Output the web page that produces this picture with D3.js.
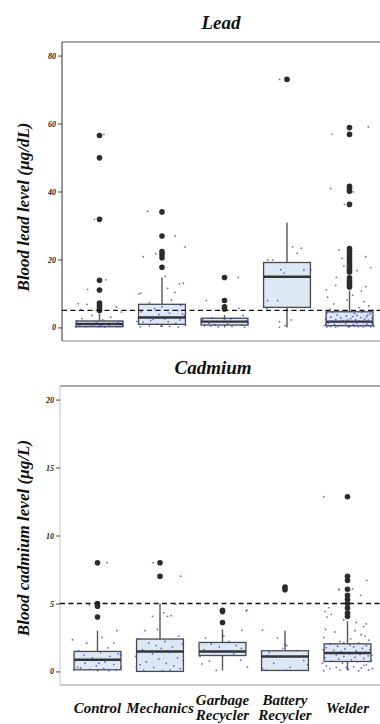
<!DOCTYPE html>
<html>
<head>
<meta charset="utf-8">
<script src="https://cdn.jsdelivr.net/npm/d3@7"></script>
<style>
  body { margin: 0; background: #fff; }
  svg text { font-family: "Liberation Serif", "DejaVu Serif", serif; font-style: italic; font-weight: bold; fill: #111; }
</style>
</head>
<body>
<svg id="chart" width="380" height="724"></svg>
<script>
// categories and axis ticks
const categories = ["Control", "Mechanics", "Garbage Recycler", "Battery Recycler", "Welder"];
const leadTicks = [0, 20, 40, 60, 80];
const cdTicks = [0, 5, 10, 15, 20];
const refLevel = 5;

// lead box statistics (µg/dL)
const leadLow    = [0, 0.2, 0, 0, 0];
const leadQ1     = [0.2, 0.9, 0.7, 5.9, 0.5];
const leadMedian = [1.0, 2.9, 1.7, 14.9, 1.7];
const leadQ3     = [1.9, 6.8, 2.7, 19.1, 4.6];
const leadHigh   = [4.0, 14.7, 3.6, 30.8, 10.8];
const leadOutliers = [
  [5.0, 5.8, 6.5, 7.2, 11.0, 13.9, 31.8, 49.9, 56.5],
  [17.7, 20.5, 21.5, 22.3, 26.9, 34.0],
  [5.4, 6.1, 7.9, 14.7],
  [73.0],
  [11.9, 12.5, 13.2, 13.9, 14.6, 16.3, 17.0, 17.7, 18.4, 19.2, 20.0, 20.8, 21.6, 22.4, 23.2, 36.2, 40.1, 40.9, 41.5, 56.8, 58.8]
];
// individual measurements: [value, horizontal jitter as share of category step]
const leadPoints = [
  [[56.8,0.07],[31.8,-0.08],[14,0.1],[11.2,-0.19],[7,-0.34],[6.8,-0.2],[6,0.27],[5.2,-0.3],[4.5,0.35],[3.5,-0.12],[3,0.18],[2.6,-0.28],[2.2,0.05],[1.9,-0.36],[1.6,0.3],[1.4,-0.05],[1.2,0.22],[1,-0.25],[0.9,0.1],[0.8,-0.15],[0.6,0.38],[0.5,-0.32],[0.4,0.15],[0.3,-0.02],[0.2,0.28],[0.2,-0.22],[0.1,0.08],[0.1,-0.38],[0.3,0.33],[0.5,0.02],[0.7,-0.1],[1.1,0.2]],
  [[34.2,-0.23],[26.9,0.21],[23.7,0.37],[21.7,-0.1],[20.8,-0.3],[15,0.05],[13,0.34],[12.8,0.28],[11.5,0.09],[10.3,0.21],[10.1,-0.34],[9.8,-0.37],[8,0.15],[7.2,-0.2],[6.5,0.3],[6.1,0],[5.5,-0.12],[5,0.25],[4.6,-0.33],[4.2,0.12],[3.8,-0.05],[3.5,0.36],[3.2,-0.25],[3,0.18],[2.8,-0.38],[2.5,0.05],[2.2,0.29],[2,-0.18],[1.7,0.1],[1.5,-0.3],[1.2,0.22],[1,-0.08],[0.8,0.35],[0.5,-0.2],[0.3,0.12],[0.2,-0.35],[0.1,0.26],[0.4,-0.02],[0.6,0.38],[1.8,-0.4],[4,0.33],[2.4,-0.14]],
  [[14.7,0.22],[7.9,-0.29],[5.6,0.23],[3.5,0.3],[2.8,-0.2],[2.5,0.1],[2.2,-0.35],[2,0.35],[1.8,-0.05],[1.5,0.18],[1.2,-0.25],[1,0.05],[0.8,-0.15],[0.6,0.28],[0.5,-0.32],[0.3,0.12],[0.2,-0.1],[0.1,0.32],[0.4,-0.22],[1.3,0.38],[2.4,0]],
  [[73,-0.12],[23.7,0.09],[23.3,0.23],[21.8,0.16],[19.8,-0.31],[19.8,-0.23],[17,-0.1],[16.9,0.27],[16.9,0.38],[16,-0.05],[7.9,-0.31],[7.9,-0.15],[5.6,-0.32],[2.2,0.07],[1.7,-0.12],[0.5,-0.03],[0.1,-0.12]],
  [[59,0.3],[56.9,-0.28],[40.9,-0.3],[39.9,0.06],[36.2,-0.08],[22.8,-0.17],[20.8,0.26],[20.3,-0.12],[18.1,-0.09],[17.6,0.34],[16.7,0.12],[14.7,-0.21],[12.4,-0.22],[12,0.26],[11,-0.37],[10.7,0.19],[9.5,0.05],[8.9,-0.35],[8.1,-0.04],[7.6,0.23],[6.9,-0.25],[6.3,0.31],[5.8,0.15],[5.4,-0.31],[5.1,0.38],
   [4.8,-0.12],[4.5,0.2],[4.3,-0.36],[4.1,0.08],[3.9,0.33],[3.7,-0.2],[3.5,0.12],[3.3,-0.05],[3.1,0.27],[3,-0.3],[2.9,0.18],[2.8,-0.14],[2.7,0.36],[2.6,0.02],[2.5,-0.38],[2.4,0.24],[2.3,-0.22],[2.2,0.1],[2.1,0.3],[2,-0.1],[1.9,0.16],[1.8,-0.27],[1.7,0.04],[1.6,0.34],[1.5,-0.16],
   [1.4,0.22],[1.3,-0.34],[1.2,0.12],[1.1,-0.06],[1,0.28],[0.9,-0.24],[0.8,0.06],[0.7,0.38],[0.6,-0.12],[0.5,0.18],[0.5,-0.4],[0.4,0.26],[0.4,-0.18],[0.3,0.08],[0.3,-0.3],[0.2,0.34],[0.2,-0.02],[0.2,0.14],[0.1,-0.22],[0.1,0.22],[0.1,-0.36],[0.3,0.39],[0.6,0.3],[0.9,-0.38],[1.2,0.36],[1.6,-0.32],[2.2,-0.03],[3.2,0.05],[3.6,0.29],[4.4,-0.27]]
];

// cadmium box statistics (µg/L)
const cdLow    = [0, 0, 0.07, 0.07, 0.07];
const cdQ1     = [0.12, 0, 1.17, 0.07, 0.73];
const cdMedian = [0.86, 1.47, 1.47, 1.1, 1.35];
const cdQ3     = [1.47, 2.38, 2.13, 1.52, 2.03];
const cdHigh   = [3.0, 5.0, 3.1, 3.0, 3.7];
const cdOutliers = [
  [4.0, 4.8, 5.0, 8.0],
  [7.0, 8.0],
  [3.6, 4.4, 4.5],
  [6.0, 6.2],
  [4.05, 4.3, 4.67, 5.0, 5.3, 5.6, 6.05, 6.7, 7.0, 12.85]
];
const cdPoints = [
  [[8,0.15],[4.9,-0.13],[3,0.31],[2.5,0.07],[2.33,-0.4],[2.1,0.26],[2.08,-0.17],[1.73,0.17],[1.5,-0.3],[1.4,0.05],[1.3,0.33],[1.2,-0.22],[1.1,0.2],[1,-0.08],[0.9,0.36],[0.8,-0.35],[0.7,0.12],[0.6,-0.2],[0.5,0.26],[0.4,-0.02],[0.3,0.38],[0.25,-0.27],[0.2,0.1],[0.15,-0.12],[0.1,0.3],[0.1,-0.38],[0.05,0.18],[0.3,-0.32],[0.6,0.02],[1.2,0.37]],
  [[8,-0.11],[7,0.33],[5,-0.07],[4.95,0.25],[4.3,0.06],[4.1,0.18],[4.05,-0.12],[4.05,0.12],[3,-0.24],[3.1,-0.04],[2.6,0.3],[2.4,-0.34],[2.2,0.08],[2.1,-0.18],[2,0.36],[1.9,-0.06],[1.8,0.2],[1.6,-0.28],[1.4,0.14],[1.3,-0.12],[1.1,-0.39],[1.0,0.28],[0.9,-0.02],[0.8,0.37],[0.7,-0.22],[0.6,0.1],[0.5,-0.32],[0.4,0.22],[0.3,-0.1],[0.2,0.32],[0.1,-0.26],[0.05,0.04],[0.1,0.16],[0.3,-0.38],[1.7,0.02]],
  [[4.5,0.39],[4.45,0.38],[3.03,0.31],[2.45,-0.27],[2.2,0.1],[2,-0.18],[1.9,0.22],[1.8,-0.05],[1.7,0.3],[1.6,-0.3],[1.5,0.06],[1.4,-0.12],[1.3,0.18],[0.82,0.29],[0.75,-0.21],[0.55,-0.33],[0.33,0.4],[0.07,-0.1],[1.1,-0.36],[2.6,0.02]],
  [[3.03,-0.36],[2.47,-0.12],[1.98,0],[1.9,0.03],[1.7,-0.04],[1.5,0.2],[1.4,-0.25],[1.17,-0.28],[1.05,0.04],[0.8,0.3],[0.6,-0.18],[0.3,0.08],[0.2,-0.36],[0.1,-0.3],[0.1,0.02],[0.5,0.36]],
  [[12.85,-0.38],[6.7,0.31],[6.05,-0.14],[6.05,0.08],[5.6,0.21],[6,-0.13],[4.7,-0.3],[4.4,-0.36],[4.2,-0.26],[4,-0.33],[3.8,-0.06],[3.6,0.14],[3.5,0.3],[3.3,0.26],[3.1,-0.35],[3,0.12],[2.9,-0.2],[2.7,0.22],[2.5,-0.38],[2.4,0.05],
   [2.3,0.34],[2.2,-0.12],[2.1,0.18],[2.0,-0.28],[1.95,0.04],[1.9,0.3],[1.85,-0.16],[1.8,0.1],[1.75,-0.34],[1.7,0.24],[1.65,-0.04],[1.6,0.36],[1.55,-0.22],[1.5,0.14],[1.45,-0.1],[1.4,0.28],[1.35,-0.3],[1.3,0.02],[1.25,0.2],[1.2,-0.18],
   [1.15,0.33],[1.1,-0.06],[1.05,0.12],[1.0,-0.36],[0.95,0.26],[0.9,-0.14],[0.85,0.06],[0.8,0.38],[0.75,-0.26],[0.7,0.16],[0.6,-0.08],[0.5,0.3],[0.4,-0.34],[0.35,0.1],[0.3,-0.18],[0.25,0.22],[0.2,-0.28],[0.15,0.02],[0.1,0.34],[0.1,-0.12],
   [0.05,0.18],[0.05,-0.38],[0.2,0.4],[0.3,-0.02],[0.45,0.26],[0.6,-0.4],[1.2,0.39],[1.6,-0.39],[2.1,-0.06],[2.6,0.28]]
];

const panels = [
  { title: "Lead", titleX: 221, titleY: 29, yLabel: "Blood lead level (\u00b5g/dL)", yLabelY: 207,
    left: 62, right: 387, top: 42, bottom: 341, domain: [-4, 84], ticks: leadTicks,
    low: leadLow, q1: leadQ1, median: leadMedian, q3: leadQ3, high: leadHigh,
    outliers: leadOutliers, points: leadPoints, leftColor: "#555", bottomColor: "#888" },
  { title: "Cadmium", titleX: 213, titleY: 374, yLabel: "Blood cadmium level (\u00b5g/L)", yLabelY: 538,
    left: 60, right: 385, top: 386, bottom: 685, domain: [-1, 21], ticks: cdTicks,
    low: cdLow, q1: cdQ1, median: cdMedian, q3: cdQ3, high: cdHigh,
    outliers: cdOutliers, points: cdPoints, leftColor: "#ccc", bottomColor: "#999" }
];

const svg = d3.select("#chart");

panels.forEach((p, pi) => {
  const x = d3.scalePoint().domain(categories).range([p.left, p.right]).padding(0.6);
  const y = d3.scaleLinear().domain(p.domain).range([p.bottom, p.top]);
  const step = x.step();
  const boxW = step * 0.75;
  const g = svg.append("g");

  // title and y label
  g.append("text").attr("x", p.titleX).attr("y", p.titleY)
    .attr("text-anchor", "middle").style("font-size", "19px").text(p.title);
  g.append("text").attr("transform", `translate(29,${p.yLabelY}) rotate(-90)`)
    .attr("text-anchor", "middle").style("font-size", "17px").text(p.yLabel);

  // frame lines
  g.append("line").attr("x1", p.left).attr("x2", 380).attr("y1", p.top).attr("y2", p.top)
    .attr("stroke", "#555").attr("stroke-width", 1.2);
  g.append("line").attr("x1", p.left).attr("x2", 380).attr("y1", p.bottom).attr("y2", p.bottom)
    .attr("stroke", p.bottomColor).attr("stroke-width", 1.2);

  // y axis
  const yAxis = g.append("g").attr("transform", `translate(${p.left},0)`)
    .call(d3.axisLeft(y).tickValues(p.ticks).tickSize(4).tickPadding(2));
  yAxis.select(".domain").attr("d", `M0,${p.top}V${p.bottom}`).attr("stroke", p.leftColor).attr("stroke-width", 1.2);
  yAxis.selectAll(".tick line").attr("stroke", "#444");
  yAxis.selectAll(".tick text").style("font-size", "8px").style("fill", "#222");

  // boxes
  categories.forEach((c, i) => {
    const cx = x(c);
    g.append("line").attr("x1", cx).attr("x2", cx).attr("y1", y(p.high[i])).attr("y2", y(p.q3[i]))
      .attr("stroke", "#555").attr("stroke-width", 1.4);
    g.append("line").attr("x1", cx).attr("x2", cx).attr("y1", y(p.q1[i])).attr("y2", y(p.low[i]))
      .attr("stroke", "#555").attr("stroke-width", 1.4);
    g.append("rect").attr("x", cx - boxW / 2).attr("width", boxW)
      .attr("y", y(p.q3[i])).attr("height", Math.max(1, y(p.q1[i]) - y(p.q3[i])))
      .attr("fill", "#dde8f5").attr("stroke", "#4a4a4a").attr("stroke-width", 1.3);
    g.append("line").attr("x1", cx - boxW / 2).attr("x2", cx + boxW / 2)
      .attr("y1", y(p.median[i])).attr("y2", y(p.median[i]))
      .attr("stroke", "#333").attr("stroke-width", 2.4);
    g.selectAll(null).data(p.outliers[i]).enter().append("circle")
      .attr("cx", cx).attr("cy", d => y(d)).attr("r", 2.8).attr("fill", "#2b2b2b");
  });

  // reference line
  g.append("line").attr("x1", p.left).attr("x2", 380).attr("y1", y(refLevel)).attr("y2", y(refLevel))
    .attr("stroke", "#111").attr("stroke-width", 1.4).attr("stroke-dasharray", "5,3.5");

  // jittered individual points
  categories.forEach((c, i) => {
    g.selectAll(null).data(p.points[i]).enter().append("circle")
      .attr("cx", d => x(c) + d[1] * step).attr("cy", d => y(d[0]))
      .attr("r", 0.9).attr("fill", "#3b3bd6").attr("opacity", 0.75);
  });

  // category labels under the last panel
  if (pi === panels.length - 1) {
    categories.forEach(c => {
      const words = c.split(" ");
      const t = g.append("text").attr("text-anchor", "middle").style("font-size", "15px");
      if (words.length === 1) {
        t.attr("x", x(c)).attr("y", 713).text(c);
      } else {
        words.forEach((w, k) => {
          t.append("tspan").attr("x", x(c)).attr("y", 705 + k * 15).text(w);
        });
      }
    });
  }
});
</script>
</body>
</html>
